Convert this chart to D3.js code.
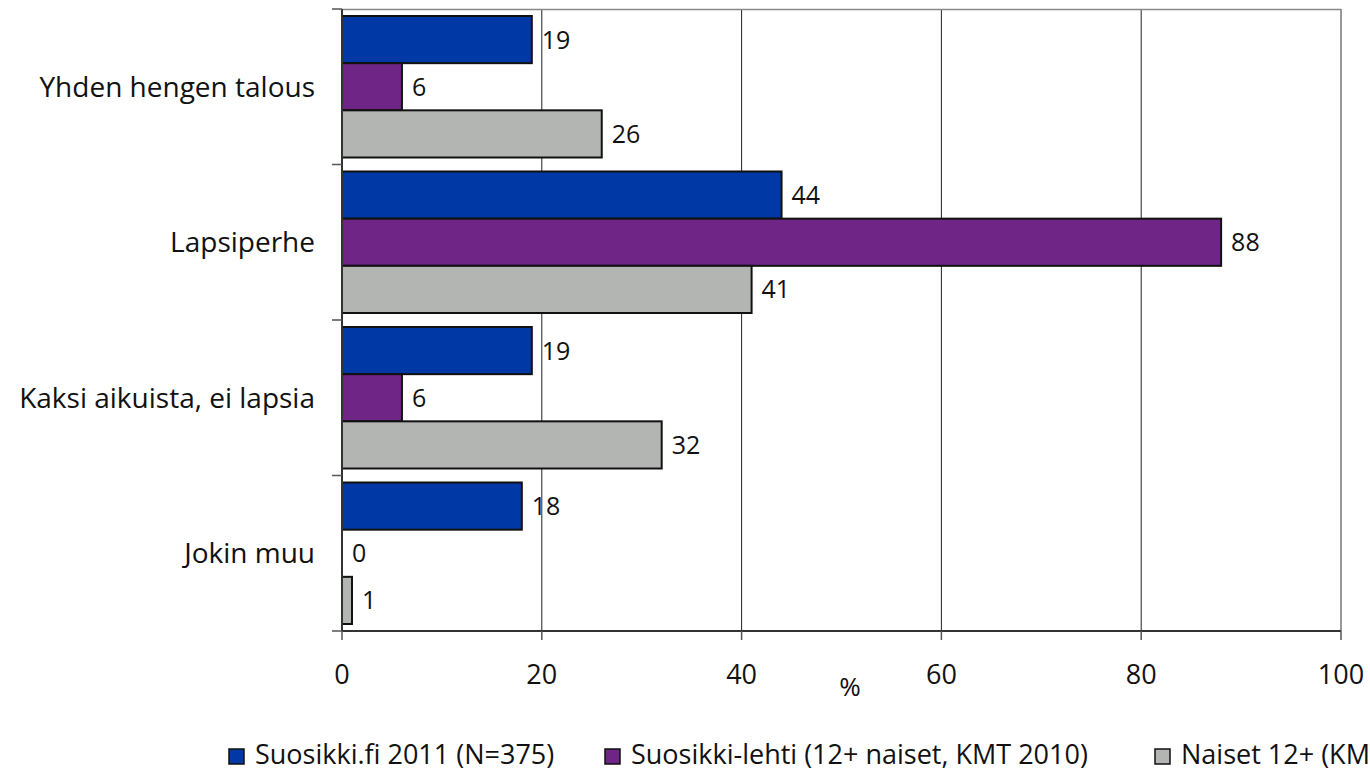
<!DOCTYPE html>
<html><head><meta charset="utf-8">
<script src="https://cdn.jsdelivr.net/npm/d3@7"></script>
<style>body{margin:0;background:#fff}svg{display:block}text{font-family:"Open Sans","Noto Sans",sans-serif;fill:#111}</style>
</head><body>
<svg id="c" width="1370" height="773"></svg>
<script>
const categories = ["Yhden hengen talous","Lapsiperhe","Kaksi aikuista, ei lapsia","Jokin muu"];
const seriesNames = ["Suosikki.fi 2011 (N=375)","Suosikki-lehti (12+ naiset, KMT 2010)","Naiset 12+ (KMT 2010)"];
const seriesColors = ["#0039A6","#6F2585","#B3B5B3"];
const valuesSuosikkiFi = [19,44,19,18];
const valuesLehti = [6,88,6,0];
const valuesNaiset = [26,41,32,1];
const xTicks = [0,20,40,60,80,100];
const series = [valuesSuosikkiFi, valuesLehti, valuesNaiset];

const svg = d3.select("#c");
const L=342, R=1341, T=9, B=631;
const x = d3.scaleLinear().domain([0,100]).range([L,R]);
const y = d3.scaleBand().domain(categories).range([T,B]).paddingInner(0.09).paddingOuter(0.045);
const yi = d3.scaleBand().domain([0,1,2]).range([0,y.bandwidth()]);

// gridlines
svg.append("g").selectAll("line").data(xTicks.slice(1)).join("line")
  .attr("x1",d=>x(d)).attr("x2",d=>x(d)).attr("y1",T).attr("y2",B)
  .attr("stroke",d=>d===100?"#333":"#222").attr("stroke-width",1);
svg.append("line").attr("x1",L).attr("x2",R).attr("y1",T+0.5).attr("y2",T+0.5).attr("stroke","#888").attr("stroke-width",1.5);

// bars
const g = svg.append("g");
categories.forEach((c,ci)=>{
  series.forEach((s,si)=>{
    const v=s[ci];
    const y0=y(c)+yi(si);
    if(v>0){
      g.append("rect").attr("x",x(0)).attr("y",y0).attr("width",x(v)-x(0)).attr("height",yi.bandwidth())
        .attr("fill",seriesColors[si]).attr("stroke","#111").attr("stroke-width",2);
    }
    g.append("text").attr("x",x(v)+10).attr("y",y0+yi.bandwidth()/2).attr("dy","0.36em")
      .attr("font-size",25).text(v);
  });
});

// y axis
const ya = d3.scaleLinear().domain([0,categories.length]).range([T,B]);
svg.append("line").attr("x1",L).attr("x2",L).attr("y1",T).attr("y2",B).attr("stroke","#333").attr("stroke-width",2);
svg.append("g").selectAll("line").data(d3.range(categories.length+1)).join("line")
  .attr("x1",L-10).attr("x2",L).attr("y1",d=>ya(d)).attr("y2",d=>ya(d)).attr("stroke","#555").attr("stroke-width",1.5);
svg.append("g").selectAll("text").data(categories).join("text")
  .attr("x",315).attr("y",d=>y(d)+y.bandwidth()/2).attr("dy","0.36em").attr("text-anchor","end")
  .attr("font-size",28).text(d=>d);

// x axis
svg.append("line").attr("x1",L).attr("x2",R).attr("y1",B).attr("y2",B).attr("stroke","#333").attr("stroke-width",2);
svg.append("g").selectAll("line").data(xTicks).join("line")
  .attr("x1",d=>x(d)).attr("x2",d=>x(d)).attr("y1",B).attr("y2",B+9).attr("stroke","#555").attr("stroke-width",1.5);
svg.append("g").selectAll("text").data(xTicks).join("text")
  .attr("x",d=>x(d)).attr("y",674).attr("dy","0.36em").attr("text-anchor","middle").attr("font-size",27).text(d=>d);
svg.append("text").attr("x",850).attr("y",687).attr("dy","0.36em").attr("text-anchor","middle").attr("font-size",26).text("%");

// legend
const legX = [229,605,1155];
seriesNames.forEach((n,i)=>{
  svg.append("rect").attr("x",legX[i]).attr("y",749).attr("width",15).attr("height",15)
    .attr("fill",seriesColors[i]).attr("stroke","#111").attr("stroke-width",1.5);
  svg.append("text").attr("x",legX[i]+26).attr("y",755).attr("dy","0.35em").attr("font-size",27).text(n);
});
</script>
</body></html>
